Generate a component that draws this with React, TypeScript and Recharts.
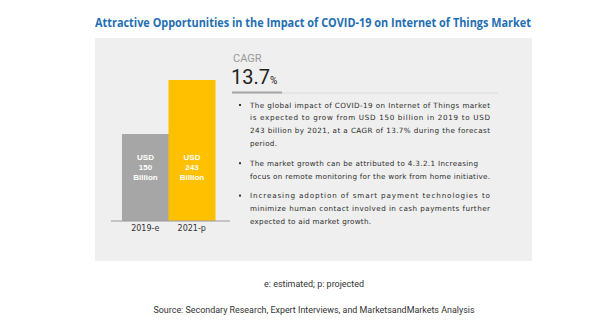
import React from 'react';
import { BarChart, Bar, XAxis, YAxis, Cell, LabelList } from 'recharts';

// values
const years = ['2019-e', '2021-p'];
const marketSize = [150, 243];
const barColors = ['#a6a6a6', '#ffc000'];
const cagr = 13.7;

const title = 'Attractive Opportunities in the Impact of COVID-19 on Internet of Things Market';
const footnote = 'e: estimated; p: projected';
const source = 'Source: Secondary Research, Expert Interviews, and MarketsandMarkets Analysis';

const bulletLines = [
  [
    'The global impact of COVID-19 on Internet of Things market',
    'is expected to grow from USD 150 billion in 2019 to USD',
    '243 billion by 2021, at a CAGR of 13.7% during the forecast',
    'period.',
  ],
  [
    'The market growth can be attributed to 4.3.2.1 Increasing',
    'focus on remote monitoring for the work from home initiative.',
  ],
  [
    'Increasing adoption of smart payment technologies to',
    'minimize human contact involved in cash payments further',
    'expected to aid market growth.',
  ],
];
// measured widths of each text line (px)
const bulletWidths = [[240, 240, 240, 27], [228, 240], [240, 240, 121]];

const data = years.map((year, i) => ({ year, value: marketSize[i] }));

const BarText = (props: any) => {
  const { x, y, width, height, index } = props;
  const cx = x + width / 2;
  const top = y + height - 64;
  const lines = ['USD', String(marketSize[index]), 'Billion'];
  return (
    <g>
      {lines.map((t, i) => (
        <text
          key={i}
          x={cx}
          y={top + i * 10}
          textAnchor="middle"
          dominantBaseline="central"
          fill="#ffffff"
          fontFamily="Liberation Sans, Arial, sans-serif"
          fontWeight="bold"
          fontSize={8}
        >
          {t}
        </text>
      ))}
    </g>
  );
};

const App = () => {
  let lineY = 105;
  const bulletEls: React.ReactNode[] = [];
  bulletLines.forEach((para, p) => {
    bulletEls.push(<rect key={`b${p}`} x={239} y={lineY - 1} width={2} height={2} fill="#333" />);
    para.forEach((line, l) => {
      bulletEls.push(
        <text
          key={`t${p}-${l}`}
          x={250}
          y={lineY}
          dominantBaseline="central"
          fontFamily="DejaVu Sans, sans-serif"
          fontSize={7.2}
          fill="#2b2b2b"
          textLength={bulletWidths[p][l]}
          lengthAdjust="spacing"
        >
          {line}
        </text>
      );
      lineY += 12.9;
    });
    lineY += 6.6;
  });

  return (
    <div style={{ position: 'relative', width: 600, height: 325, margin: -8, background: '#fff' }}>
      <svg width={600} height={325} style={{ position: 'absolute', left: 0, top: 0 }}>
        <text
          x={95}
          y={27}
          fontFamily="Open Sans, sans-serif"
          fontWeight="bold"
          fontSize={11.5}
          fill="#1f6fb2"
          textLength={436}
          lengthAdjust="spacingAndGlyphs"
        >
          {title}
        </text>
        <rect x={95} y={38} width={437} height={223} fill="#efefef" />
        <text x={233} y={58} dominantBaseline="central" fontFamily="Roboto, sans-serif" fontSize={11} fill="#999">
          CAGR
        </text>
        <text x={231} y={84} fontFamily="Roboto, sans-serif" fontSize={20} fill="#222">
          {cagr}
          <tspan fontSize={10}>%</tspan>
        </text>
        <line x1={232} x2={498} y1={93} y2={93} stroke="#d9d9d9" strokeWidth={1} />
        <line x1={232} x2={282} y1={92.5} y2={92.5} stroke="#a6a6a6" strokeWidth={2} />
        {bulletEls}
        <text
          x={314}
          y={284}
          textAnchor="middle"
          dominantBaseline="central"
          fontFamily="Roboto, sans-serif"
          fontSize={9}
          fill="#333"
          textLength={100}
          lengthAdjust="spacingAndGlyphs"
        >
          {footnote}
        </text>
        <text
          x={314}
          y={310}
          textAnchor="middle"
          dominantBaseline="central"
          fontFamily="Roboto, sans-serif"
          fontSize={9}
          fill="#333"
          textLength={321}
          lengthAdjust="spacingAndGlyphs"
        >
          {source}
        </text>
        <line x1={92} x2={535} y1={317.5} y2={317.5} stroke="#e6e6e6" strokeWidth={1} />
      </svg>
      <div style={{ position: 'absolute', left: 100, top: 66 }}>
        <BarChart
          width={140}
          height={185}
          data={data}
          margin={{ top: 10, right: 10, bottom: 0, left: 11 }}
          barCategoryGap={0}
        >
          <XAxis
            dataKey="year"
            height={30}
            padding={{ left: 11, right: 15 }}
            tickLine={false}
            tickSize={0}
            tickMargin={4}
            axisLine={{ stroke: '#999' }}
            tick={{ fill: '#333', fontSize: 8, fontFamily: 'DejaVu Sans, sans-serif' }}
          />
          <YAxis hide domain={[0, 250]} />
          <Bar dataKey="value" isAnimationActive={false}>
            {data.map((d, i) => (
              <Cell key={d.year} fill={barColors[i]} />
            ))}
            <LabelList dataKey="value" content={<BarText />} />
          </Bar>
        </BarChart>
      </div>
    </div>
  );
};

export default App;
